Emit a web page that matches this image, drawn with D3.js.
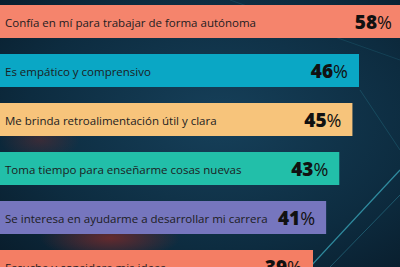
<!DOCTYPE html>
<html lang="es">
<head>
<meta charset="utf-8">
<title>Jefe ideal</title>
<script src="https://d3js.org/d3.v7.min.js"></script>
<style>
  body { margin: 0; background: #0b2436; }
  svg { display: block; }
</style>
</head>
<body>
<div id="chart"></div>
<script>
  // data
  var labels = [
    "Confía en mí para trabajar de forma autónoma",
    "Es empático y comprensivo",
    "Me brinda retroalimentación útil y clara",
    "Toma tiempo para enseñarme cosas nuevas",
    "Se interesa en ayudarme a desarrollar mi carrera",
    "Escucha y considera mis ideas"
  ];
  var values = [58, 46, 45, 43, 41, 39];
  var colors = ["#f5846c", "#0aa7c5", "#f7c47b", "#22bfa9", "#7676be", "#f47e64"];

  var width = 400, height = 267;

  var svg = d3.select("#chart").append("svg")
    .attr("width", width)
    .attr("height", height);

  // background
  var defs = svg.append("defs");
  var bg = defs.append("radialGradient").attr("id", "bg")
    .attr("cx", "0.55").attr("cy", "0.45").attr("r", "0.8");
  bg.append("stop").attr("offset", "0").attr("stop-color", "#16405a");
  bg.append("stop").attr("offset", "0.6").attr("stop-color", "#0d2c40");
  bg.append("stop").attr("offset", "1").attr("stop-color", "#081a28");
  var glow = defs.append("radialGradient").attr("id", "glow");
  glow.append("stop").attr("offset", "0").attr("stop-color", "#7a2a2a").attr("stop-opacity", 0.8);
  glow.append("stop").attr("offset", "1").attr("stop-color", "#7a2a2a").attr("stop-opacity", 0);

  svg.append("rect").attr("width", width).attr("height", height).attr("fill", "url(#bg)");
  svg.append("ellipse").attr("cx", 110).attr("cy", 238).attr("rx", 70).attr("ry", 22).attr("fill", "url(#glow)");
  svg.append("ellipse").attr("cx", 40).attr("cy", 140).attr("rx", 40).attr("ry", 20).attr("fill", "url(#glow)").attr("opacity", 0.5);

  // faint network lines
  var deco = svg.append("g").attr("stroke", "#3fb3c8").attr("fill", "none");
  deco.append("line").attr("x1", 310).attr("y1", 267).attr("x2", 400).attr("y2", 170).attr("stroke-opacity", 0.7).attr("stroke-width", 1.2);
  deco.append("line").attr("x1", 330).attr("y1", 267).attr("x2", 400).attr("y2", 195).attr("stroke-opacity", 0.35);
  deco.append("line").attr("x1", 230).attr("y1", 0).attr("x2", 400).attr("y2", 60).attr("stroke-opacity", 0.15);
  deco.append("line").attr("x1", 360).attr("y1", 90).attr("x2", 400).attr("y2", 150).attr("stroke-opacity", 0.2);

  var x = d3.scaleLinear().domain([39, 46]).range([313, 359]);
  var y = d3.scaleBand().domain(labels).range([5, 283]).paddingInner(16 / 49);

  // the longest bar runs off the right edge of the picture
  function barEnd(v) { return Math.min(x(v), width + 3); }

  var rows = svg.selectAll("g.row")
    .data(labels)
    .enter().append("g")
    .attr("class", "row")
    .attr("transform", function(d) { return "translate(0," + y(d) + ")"; });

  rows.append("rect")
    .attr("x", 0)
    .attr("width", function(d, i) { return barEnd(values[i]); })
    .attr("height", y.bandwidth())
    .attr("fill", function(d, i) { return colors[i]; });

  rows.append("text")
    .attr("x", 5)
    .attr("y", y.bandwidth() / 2 + 5)
    .attr("font-family", "Open Sans, sans-serif")
    .attr("font-size", 11.5)
    .attr("fill", "#1c1c22")
    .text(function(d) { return d; });

  var pct = rows.append("text")
    .attr("x", function(d, i) { return barEnd(values[i]) - 11; })
    .attr("y", y.bandwidth() / 2 + 7.5)
    .attr("text-anchor", "end")
    .attr("font-family", "Open Sans, sans-serif")
    .attr("fill", "#111");
  pct.append("tspan")
    .attr("font-size", 19)
    .attr("font-weight", 800)
    .text(function(d, i) { return values[i]; });
  pct.append("tspan")
    .attr("font-size", 18)
    .attr("font-weight", 400)
    .text("%");
</script>
</body>
</html>
